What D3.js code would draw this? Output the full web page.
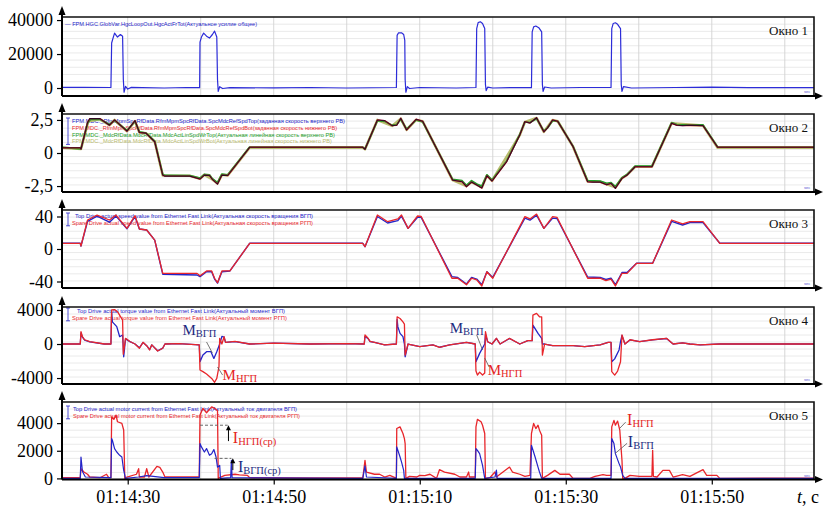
<!DOCTYPE html>
<html>
<head>
<meta charset="utf-8">
<script src="https://cdn.jsdelivr.net/npm/d3@7"></script>
<style>
  body { margin: 0; background: #fff; }
  svg { display: block; }
</style>
</head>
<body>
<svg id="chart"></svg>
<script>
// time in seconds after 01:14:00
const timeDomain = [21, 124];
const timeTicks = [30, 50, 70, 90, 110];
const gridTimes = [30, 40, 50, 60, 70, 80, 90, 100, 110, 120];

// Окно 1: total force
const forceTot = [[21,400],[24,350],[27.7,300],[27.8,26500],[28.0,29500],[28.2,32300],[28.6,30000],[29.0,31500],[29.3,30500],[29.4,5000],[29.5,-2500],[29.7,1000],[30.0,-600],[30.5,400],[32,200],[35,0],[38,300],[39.85,200],[39.9,27000],[40.1,30000],[40.4,32300],[40.8,30500],[41.2,29400],[41.6,31500],[41.9,33500],[42.2,30000],[42.3,5000],[42.4,-2000],[42.6,800],[43.0,-300],[44,200],[50,100],[55,300],[60,0],[66.8,300],[66.9,31000],[67.1,32500],[67.5,32500],[67.8,31500],[67.95,28000],[68.0,5000],[68.1,-2500],[68.3,800],[68.6,-300],[70,300],[75,0],[77.7,300],[77.8,35000],[78.0,38500],[78.3,39000],[78.6,38000],[78.9,35000],[79.0,2000],[79.1,-1500],[79.3,500],[80,0],[83,300],[85.3,200],[85.4,33000],[85.6,36000],[85.9,36500],[86.3,35500],[86.7,33000],[86.8,2000],[86.9,-2000],[87.1,600],[88,0],[92,300],[96.2,300],[96.3,35000],[96.5,38000],[96.8,38400],[97.1,37500],[97.5,35000],[97.6,2000],[97.7,-2000],[97.9,800],[99,0],[105,300],[110,500],[115,200],[124,200]];

// Окно 2: roll linear speeds
const spdRefTop = [[21,0.4],[23.5,0.4],[23.6,0.3],[24.5,2.3],[24.8,2.6],[26.2,2.6],[27.5,2.1],[28.2,2.5],[29.9,1.65],[31.0,2.45],[31.6,1.55],[32.5,1.5],[33.7,0.85],[34.8,-1.67],[35.1,-1.75],[38.5,-1.75],[39.9,-1.97],[40.5,-1.67],[41.2,-1.7],[41.6,-2.0],[42.3,-2.35],[42.9,-1.67],[43.7,-1.7],[46.7,0.43],[62.2,0.43],[62.5,0.28],[64.2,2.5],[65.2,2.45],[66.2,2.07],[66.85,2.1],[67.4,2.63],[68.2,1.74],[69.5,2.55],[70.4,2.4],[74.5,-2.05],[75.8,-2.17],[76.4,-2.55],[77.1,-2.2],[77.8,-2.42],[78.5,-2.65],[79.2,-1.72],[79.9,-2.12],[81.9,-0.66],[83.7,1.36],[84.4,2.37],[85.1,2.27],[86.0,2.67],[87.0,1.6],[87.5,1.9],[88.2,2.5],[88.9,2.4],[91.0,0.48],[93.0,-2.17],[93.7,-2.2],[94.7,-2.2],[95.6,-2.4],[96.2,-2.3],[96.8,-2.67],[97.7,-1.92],[98.4,-1.67],[99.5,-1.04],[101.8,-1.04],[104.5,2.25],[105.2,2.1],[106.0,2.07],[107.0,2.1],[108.8,2.07],[110.8,0.43],[124,0.43]];
const spdRefBot = spdRefTop; // both set-points lie on top of each other
const spdActTop = [[21,0.42],[23.6,0.32],[24.5,2.25],[24.9,2.55],[26.2,2.55],[27.5,2.15],[28.2,2.45],[29.9,1.7],[31.0,2.4],[31.6,1.6],[32.5,1.5],[33.7,0.9],[34.8,-1.62],[35.1,-1.7],[38.5,-1.72],[39.9,-1.9],[40.5,-1.62],[41.2,-1.65],[41.6,-1.95],[42.3,-2.25],[42.9,-1.6],[43.7,-1.65],[46.7,0.45],[62.2,0.45],[62.5,0.3],[64.2,2.45],[65.2,2.4],[66.2,2.1],[66.85,2.15],[67.4,2.55],[68.2,1.8],[69.5,2.5],[70.4,2.35],[74.5,-2.0],[75.8,-2.1],[76.4,-2.45],[77.1,-2.1],[77.8,-2.35],[78.5,-2.5],[79.2,-1.65],[79.9,-2.05],[81.9,-0.6],[83.7,1.4],[84.4,2.35],[85.1,2.3],[86.0,2.6],[87.0,1.65],[87.5,1.9],[88.2,2.45],[88.9,2.4],[91.0,0.5],[93.0,-2.1],[94.7,-2.12],[95.6,-2.3],[96.2,-2.25],[96.8,-2.55],[97.7,-1.88],[98.4,-1.62],[99.5,-1.0],[101.8,-1.0],[104.5,2.3],[105.2,2.15],[106.0,2.12],[108.8,2.12],[110.8,0.45],[124,0.45]];
const spdActBot = [[21,0.4],[23.6,0.3],[24.6,2.4],[26.2,2.55],[27.5,2.1],[28.2,2.5],[29.9,1.65],[31.0,2.4],[31.6,1.55],[32.5,1.5],[33.7,0.85],[34.8,-1.7],[38.5,-1.72],[39.9,-1.95],[40.5,-1.65],[41.6,-2.0],[42.3,-2.3],[42.9,-1.65],[43.7,-1.7],[46.7,0.4],[62.2,0.4],[62.5,0.28],[64.2,2.5],[66.2,2.05],[67.4,2.6],[68.2,1.75],[69.5,2.5],[70.4,2.4],[74.5,-2.05],[76.4,-2.5],[77.1,-2.2],[78.5,-2.6],[79.2,-1.7],[79.9,-2.1],[83.7,1.35],[84.4,2.35],[86.0,2.65],[87.0,1.6],[88.2,2.5],[88.9,2.4],[91.0,0.48],[93.0,-2.15],[94.7,-2.18],[96.8,-2.6],[97.7,-1.9],[98.4,-1.65],[99.5,-1.04],[101.8,-1.04],[104.5,2.25],[108.8,2.07],[110.8,0.4],[124,0.4]];

// Окно 3: roll rotation speeds
const rotSpare = [[21,7],[23.5,7],[23.6,3.7],[24.5,35.7],[25.8,41.8],[27.5,35.7],[28.4,41.8],[29.9,25.4],[31.0,41],[31.6,24.6],[32.6,23.4],[33.7,11],[34.8,-30],[39.5,-30],[39.9,-33],[40.8,-27],[41.5,-27],[41.9,-36],[42.3,-41.5],[42.9,-27],[44.0,-27],[46.7,7],[62.2,7],[62.5,2.9],[64.2,41.8],[65.6,33.6],[67.0,37],[67.5,41.8],[68.4,25.4],[69.7,40.6],[70.2,40],[74.4,-36],[75.2,-36],[76.4,-44],[77.1,-36],[77.8,-38],[78.5,-45.5],[79.2,-28],[80.0,-36],[84.4,39.8],[85.1,37],[86.0,43],[87.0,25.4],[88.2,39.8],[88.8,39],[93.0,-36],[94.7,-36],[95.5,-39],[96.2,-37],[96.8,-45.5],[97.7,-30],[98.4,-30],[99.7,-17.6],[101.9,-17.6],[104.5,35.7],[106.0,30.8],[107.0,33.6],[108.8,33.6],[111.1,7],[124,7]];
const rotTop = [[21,7],[23.5,7],[23.6,3.7],[24.5,34],[25.8,40.5],[27.5,33],[28.4,40.5],[29.9,25],[31.0,40],[31.6,24.6],[32.6,23.4],[33.7,11],[34.8,-31],[39.5,-32],[39.9,-34],[40.8,-28],[41.5,-28],[41.9,-37],[42.3,-42],[42.9,-28],[44.0,-27],[46.7,7],[62.2,7],[62.5,2.9],[64.2,40],[65.6,32],[67.0,35],[67.5,40.5],[68.4,25.4],[69.7,39],[70.2,39],[74.4,-34],[75.2,-35],[76.4,-43],[77.1,-35],[77.8,-37],[78.5,-44],[79.2,-28],[80.0,-35],[84.4,38],[85.1,35.5],[86.0,41.5],[87.0,25.4],[88.2,38],[88.8,37.5],[93.0,-34.5],[94.7,-35],[95.5,-37.5],[96.2,-36],[96.8,-44],[97.7,-29],[98.4,-29],[99.7,-17.6],[101.9,-17.6],[104.5,34],[106.0,29.5],[107.0,32.5],[108.8,32.5],[111.1,7],[124,7]];

// Окно 4: torques
const torqueSpare = [[21,0],[23.5,0],[23.6,1450],[23.8,860],[24.1,500],[24.8,270],[26.8,0],[27.7,0],[27.8,4000],[28.2,4050],[28.6,3800],[29.3,2800],[29.4,-1200],[29.7,670],[30.3,300],[31.0,0],[31.6,-500],[32.1,200],[32.6,-200],[33.0,-700],[33.3,-100],[34.1,-820],[34.8,-500],[35.1,0],[37,50],[39.8,-100],[39.9,-3060],[40.3,-3250],[40.8,-3530],[41.5,-4040],[41.9,-4500],[42.2,-4040],[42.5,-2670],[42.6,670],[42.9,0],[43.2,860],[43.4,200],[44.7,300],[46.7,0],[50,100],[55,0],[60,50],[62.4,0],[62.5,1060],[62.9,700],[63.2,300],[63.8,200],[65.2,-100],[66.8,0],[66.9,3200],[67.3,3000],[67.7,2600],[67.9,2350],[68.0,-1300],[68.4,0],[70.0,-300],[71.8,-100],[72.7,-400],[74.1,-100],[76.4,200],[77.6,0],[77.7,-3180],[77.9,-3650],[78.2,-3300],[78.6,-3650],[78.9,-3400],[79.0,1450],[79.3,270],[79.9,0],[80.5,670],[81.0,0],[82.3,670],[83.7,0],[84.8,400],[85.4,400],[85.5,3400],[86.0,3600],[86.4,3200],[86.7,3200],[86.8,-1300],[87.1,0],[88.2,-200],[91.0,-200],[92.6,-300],[94.7,-100],[95.8,200],[96.2,200],[96.3,-3250],[96.7,-3650],[97.1,-3180],[97.5,-2080],[97.7,1060],[98.1,0],[98.8,500],[100.1,270],[101.9,500],[103.8,670],[104.7,0],[106.0,130],[107.0,0],[108.4,-100],[111.1,0],[124,0]];
const torqueTop = [[21,0],[23.5,0],[23.6,1300],[23.8,800],[24.1,450],[24.8,250],[26.8,0],[27.7,0],[27.8,3800],[27.9,2600],[28.5,2040],[28.9,860],[29.3,1060],[29.45,-1500],[29.7,600],[30.3,280],[31.0,0],[31.6,-450],[32.1,180],[32.6,-200],[33.0,-650],[33.3,-100],[34.1,-800],[34.8,-480],[35.1,0],[37,50],[39.8,-100],[39.9,-2080],[40.3,-1300],[40.8,-900],[41.4,-900],[41.8,-1690],[42.2,-900],[42.6,0],[42.9,900],[43.2,800],[43.4,200],[44.7,280],[46.7,0],[50,100],[55,0],[60,50],[62.4,0],[62.5,900],[62.9,650],[63.2,280],[63.8,200],[65.2,-100],[66.8,0],[66.9,2900],[67.0,2040],[67.3,1250],[67.7,860],[67.9,0],[68.0,-1500],[68.4,0],[70.0,-300],[71.8,-100],[72.7,-380],[74.1,-100],[76.4,200],[77.6,0],[77.7,-2080],[78.2,-1100],[78.9,0],[79.0,1130],[79.3,270],[79.9,0],[80.5,650],[81.0,0],[82.3,650],[83.7,0],[84.8,400],[85.4,400],[85.5,2230],[86.2,1250],[86.7,670],[86.8,0],[87.1,0],[88.2,-200],[91.0,-200],[92.6,-300],[94.7,-100],[95.8,200],[96.2,200],[96.3,-2080],[96.7,-1750],[97.3,-700],[97.5,270],[97.7,1000],[98.1,0],[98.8,480],[100.1,270],[101.9,480],[103.8,650],[104.7,0],[106.0,130],[107.0,0],[108.4,-100],[111.1,0],[124,0]];

// Окно 5: motor currents
const currentSpare = [[21,50],[23.5,50],[23.6,700],[24.0,460],[24.5,300],[24.8,100],[26.2,50],[27.1,300],[27.4,50],[27.7,50],[27.8,4460],[28.1,4270],[28.4,4580],[28.6,4100],[29.2,3980],[29.45,3500],[29.6,0],[29.9,100],[31.2,300],[31.5,700],[31.6,100],[32.3,100],[32.6,700],[32.9,100],[34.0,870],[34.4,800],[34.8,460],[35.1,100],[39.8,100],[39.9,4580],[40.3,5070],[40.8,4750],[41.5,5180],[41.9,5070],[42.3,4900],[42.4,0],[42.6,50],[43.3,220],[44.7,300],[45.3,250],[46.4,220],[46.7,50],[55,30],[62.2,30],[62.5,1300],[62.7,460],[63.8,300],[64.5,300],[65.2,100],[65.9,220],[66.6,50],[66.8,50],[66.85,3610],[67.3,3730],[67.7,3250],[67.9,2880],[68.0,2520],[68.1,0],[68.6,145],[69.6,100],[70.0,220],[70.7,200],[71.4,300],[72.3,0],[72.7,630],[73.4,460],[74.8,300],[75.5,100],[76.4,100],[76.7,460],[76.8,100],[77.6,100],[77.7,3730],[77.9,4270],[78.4,4100],[78.6,3850],[78.9,3250],[79.0,0],[79.6,50],[80.3,460],[80.5,100],[82.3,820],[82.7,460],[83.7,300],[84.4,150],[85.1,220],[85.3,3250],[85.6,3980],[85.9,3610],[86.2,3850],[86.4,3490],[86.7,3130],[86.8,0],[87.5,220],[88.5,580],[89.2,300],[90.5,300],[91.0,0],[93.3,0],[94.0,150],[95.1,270],[95.6,220],[96.2,220],[96.3,3730],[96.6,4200],[96.8,3850],[97.1,4150],[97.4,3490],[97.7,1300],[97.8,0],[98.1,0],[98.8,220],[100.1,150],[101.8,150],[101.9,2030],[102.0,150],[102.5,100],[103.3,580],[104.2,580],[104.7,100],[106.0,270],[107.0,150],[108.8,630],[109.3,220],[110.7,220],[111.1,0],[124,20]];
const currentTop = [[21,0],[23.5,0],[23.6,1550],[23.8,500],[24.2,100],[27.7,50],[27.8,2880],[27.9,2760],[28.2,2160],[28.5,1910],[28.9,1670],[29.2,1550],[29.45,580],[29.7,0],[31.5,100],[32.6,200],[35,50],[39.8,50],[39.9,2520],[40.1,2280],[40.5,1910],[40.8,2160],[41.2,1670],[41.5,1790],[41.8,2090],[42.1,1550],[42.3,820],[42.6,940],[42.7,0],[44.1,50],[44.2,1300],[44.3,50],[62.2,0],[62.5,900],[62.7,100],[66.8,0],[66.85,2280],[67.3,1550],[67.5,1190],[67.8,580],[67.9,0],[77.6,0],[77.7,2160],[77.9,2030],[78.2,1790],[78.6,940],[78.9,0],[80.3,100],[80.5,600],[80.6,0],[85.2,0],[85.3,2400],[85.8,1550],[86.2,820],[86.4,460],[86.7,0],[96.2,0],[96.3,2880],[96.6,2520],[96.8,1790],[97.3,1070],[97.5,820],[97.8,220],[98.1,0],[124,0]];

// annotation anchors: [time, value]
const torqueNotes = [
  {at:[37.5,1060], main:"M", sub:"ВГП", kind:"top", lead:[[40.8,235],[41.6,-1060]]},
  {at:[43.0,-4230], main:"M", sub:"НГП", kind:"spare", lead:[[42.3,-2700],[43.0,-3650]]},
  {at:[74.1,1290], main:"M", sub:"ВГП", kind:"top", lead:[[77.8,1060],[78.6,-700]]},
  {at:[79.3,-3650], main:"M", sub:"НГП", kind:"spare", lead:[[78.9,-1650],[79.5,-2700]]}
];
const currentNotes = [
  {at:[44.4,2570], main:"I", sub:"НГП(ср)", kind:"spare", level:[39.9,43.7,3850], arrow:[43.8,2700]},
  {at:[45.1,460], main:"I", sub:"ВГП(ср)", kind:"top", level:[41.9,44.2,1450], arrow:[44.4,600]},
  {at:[98.4,3850], main:"I", sub:"НГП", kind:"spare", lead:[[97.4,3630],[98.2,4070]]},
  {at:[98.5,2250], main:"I", sub:"ВГП", kind:"top", lead:[[96.8,1820],[98.4,2540]]}
];

const width = 823, height = 509;
const left = 62, right = 814;
const serif = "'Liberation Serif', 'Times New Roman', serif";
const sans = "'Liberation Sans', Arial, sans-serif";
const BLUE = "#2424c8", RED = "#e8262b", GREEN = "#1e9e2a", OLIVE = "#b9bb6e";
const noteColor = {top: "#1c2a80", spare: "#e52222"};

const svg = d3.select("#chart").attr("width", width).attr("height", height);
const x = d3.scaleLinear().domain(timeDomain).range([left, right]);

const panels = [
  {top:17, bottom:96, domain:[-4700,41800], ticks:[0,20000,40000], fmt:d => d, title:"Окно 1",
   series:[{data:forceTot, color:"#2c2cd8", w:1.2}],
   legend:[{text:"— FPM.HGC.GlobVar.HgcLoopOut.HgcActFrTot(Актуальное усилие общее)", color:BLUE, x:65, len:192}],
   legendY:26, bracket:false},
  {top:114, bottom:192, domain:[-2.95,2.95], ticks:[-2.5,0,2.5], fmt:d => d === 0 ? "0" : String(d).replace(".", ","), title:"Окно 2",
   series:[{data:spdActBot, color:OLIVE, w:2.6},{data:spdActTop, color:GREEN, w:1.8},
           {data:spdRefBot, color:RED, w:1.4},{data:spdRefTop, color:"#3535c8", w:1.1, blend:true}],
   legend:[{text:"FPM.MDC._RfmMpmSpcRfData.RfmMpmSpcRfData.SpcMdcRefSpdTop(заданная скорость верхнего РВ)", color:BLUE, x:72, len:273},
           {text:"FPM.MDC._RfmMpmSpcRfData.RfmMpmSpcRfData.SpcMdcRefSpdBot(заданная скорость нижнего РВ)", color:RED, x:72, len:265},
           {text:"FPM.MDC._MdcRfData.MdcRfData.MdcActLinSpdWrTop(Актуальная линейная скорость верхнего РВ)", color:GREEN, x:72, len:263},
           {text:"FPM.MDC._MdcRfData.MdcRfData.MdcActLinSpdWrBot(Актуальная линейная скорость нижнего РВ)", color:OLIVE, x:72, len:260}],
   legendY:123, bracket:true},
  {top:210, bottom:288, domain:[-48,48], ticks:[-40,0,40], fmt:d => d, title:"Окно 3",
   series:[{data:rotTop, color:BLUE, w:1.4},{data:rotSpare, color:RED, w:1.3}],
   legend:[{text:"Top Drive  actual speed value from Ethernet Fast Link(Актуальная скорость вращения ВГП)", color:BLUE, x:75, len:238},
           {text:"Spare Drive  actual speed value from Ethernet Fast Link(Актуальная скорость вращения РГП)", color:RED, x:72, len:241}],
   legendY:218, bracket:true},
  {top:307, bottom:384, domain:[-4700,4350], ticks:[-4000,0,4000], fmt:d => d, title:"Окно 4",
   series:[{data:torqueTop, color:BLUE, w:1.3},{data:torqueSpare, color:RED, w:1.3}],
   legend:[{text:"Top Drive  actual torque value from Ethernet Fast Link(Актуальный момент ВГП)", color:BLUE, x:77, len:208},
           {text:"Spare Drive  actual torque value from Ethernet Fast Link(Актуальный момент РГП)", color:RED, x:72, len:215}],
   legendY:313, bracket:true, notes:torqueNotes},
  {top:402, bottom:479.5, domain:[-80,5530], ticks:[0,2000,4000], fmt:d => d, title:"Окно 5",
   series:[{data:currentSpare, color:RED, w:1.3},{data:currentTop, color:BLUE, w:1.2}],
   legend:[{text:"Top Drive actual motor current from Ethernet Fast Link(Актуальный ток двигателя ВГП)", color:BLUE, x:73, len:224},
           {text:"Spare Drive actual motor current from Ethernet Fast Link(Актуальный ток двигателя РГП)", color:RED, x:73, len:227}],
   legendY:411, bracket:true, notes:currentNotes, xAxis:true}
];

function subLabel(g, px, py, main, sub, color, big) {
  const t = g.append("text").attr("x", px).attr("y", py)
    .attr("fill", color).style("font-family", serif);
  t.append("tspan").attr("font-size", big ? 16 : 15).text(main);
  t.append("tspan").attr("font-size", 10.5).attr("dy", 2).text(sub);
}

panels.forEach((p, i) => {
  const y = d3.scaleLinear().domain(p.domain).range([p.bottom, p.top]);
  const g = svg.append("g");

  g.append("clipPath").attr("id", "clip" + i)
    .append("rect").attr("x", left).attr("y", p.top).attr("width", right - left).attr("height", p.bottom - p.top);

  // grid
  const h = p.bottom - p.top;
  g.append("g").selectAll("line").data(d3.range(1, 11)).join("line")
    .attr("x1", left).attr("x2", right)
    .attr("y1", k => p.top + k * h / 11).attr("y2", k => p.top + k * h / 11)
    .attr("stroke", "#e4e4e4").attr("stroke-width", 0.8);
  g.append("g").selectAll("line").data(gridTimes).join("line")
    .attr("x1", d => x(d)).attr("x2", d => x(d))
    .attr("y1", p.top).attr("y2", p.bottom)
    .attr("stroke", "#d2d2d2").attr("stroke-width", 0.9);

  // legend (under the curves)
  const leg = g.append("g").style("font-family", sans).attr("font-size", 5.6);
  p.legend.forEach((l, k) => {
    leg.append("text").attr("x", l.x).attr("y", p.legendY + k * 6.8)
      .attr("fill", l.color).attr("textLength", l.len).attr("lengthAdjust", "spacingAndGlyphs")
      .text(l.text);
  });
  if (p.bracket) {
    const y0 = p.legendY - 5, y1 = p.legendY + (p.legend.length - 1) * 6.8 + 1;
    leg.append("path").attr("d", `M66,${y0}H70M68,${y0}V${y1}M66,${y1}H70`)
      .attr("stroke", BLUE).attr("stroke-width", 0.8).attr("fill", "none");
  }

  // curves
  const line = d3.line().x(d => x(d[0])).y(d => y(d[1]));
  const curves = g.append("g").attr("clip-path", `url(#clip${i})`);
  p.series.forEach(s => {
    curves.append("path").datum(s.data).attr("d", line)
      .attr("fill", "none").attr("stroke", s.color).attr("stroke-width", s.w)
      .attr("stroke-linejoin", "round")
      .style("mix-blend-mode", s.blend ? "multiply" : null);
  });

  // frame
  g.append("path").attr("d", `M${left},${p.top}H${right}V${p.bottom}`)
    .attr("fill", "none").attr("stroke", "#111").attr("stroke-width", 1.6);
  g.append("line").attr("x1", left).attr("x2", right + 2).attr("y1", p.bottom).attr("y2", p.bottom)
    .attr("stroke", "#000").attr("stroke-width", 2);
  g.append("line").attr("x1", left).attr("x2", left).attr("y1", p.top - 4).attr("y2", p.bottom)
    .attr("stroke", "#000").attr("stroke-width", 2);
  g.append("path").attr("d", `M${left},${p.top - 11}L${left - 3.5},${p.top - 2}H${left + 3.5}Z`).attr("fill", "#000");
  g.append("path").attr("d", `M${right + 9},${p.bottom}L${right + 1},${p.bottom - 3.5}V${p.bottom + 3.5}Z`).attr("fill", "#000");

  // y axis
  const ya = g.append("g").attr("transform", `translate(${left},0)`)
    .call(d3.axisLeft(y).tickValues(p.ticks).tickFormat(p.fmt).tickSize(5).tickPadding(4));
  ya.select(".domain").remove();
  ya.selectAll("line").attr("stroke", "#000").attr("stroke-width", 1.2);
  ya.selectAll("text").style("font-family", serif).style("font-size", "18px").attr("fill", "#000");

  // window title and tiny unit mark
  g.append("text").attr("x", 808).attr("y", p.top + 18).attr("text-anchor", "end")
    .style("font-family", serif).attr("font-size", 13).attr("fill", "#111").text(p.title);
  g.append("text").attr("x", 804).attr("y", p.bottom - 3).style("font-family", sans)
    .attr("font-size", 4).attr("fill", "#5050d0").text("sec");

  // annotations
  (p.notes || []).forEach(n => {
    const c = noteColor[n.kind];
    if (n.lead) {
      g.append("line").attr("x1", x(n.lead[0][0])).attr("y1", y(n.lead[0][1]))
        .attr("x2", x(n.lead[1][0])).attr("y2", y(n.lead[1][1]))
        .attr("stroke", "#555").attr("stroke-width", 0.8);
    }
    if (n.level) {
      g.append("line").attr("x1", x(n.level[0])).attr("x2", x(n.level[1]))
        .attr("y1", y(n.level[2])).attr("y2", y(n.level[2]))
        .attr("stroke", "#666").attr("stroke-width", 1).attr("stroke-dasharray", "3,2");
      const ax = x(n.arrow[0]), ay0 = y(n.arrow[1]), ay1 = y(n.level[2]);
      g.append("line").attr("x1", ax).attr("x2", ax).attr("y1", ay0).attr("y2", ay1 + 4)
        .attr("stroke", "#000").attr("stroke-width", 1);
      g.append("path").attr("d", `M${ax},${ay1}L${ax - 2.5},${ay1 + 5}H${ax + 2.5}Z`).attr("fill", "#000");
    }
    subLabel(g, x(n.at[0]), y(n.at[1]), n.main, n.sub, c, n.main === "I");
  });

  if (p.xAxis) {
    const xa = g.append("g").attr("transform", `translate(0,${p.bottom})`)
      .call(d3.axisBottom(x).tickValues(timeTicks).tickSize(5).tickPadding(6)
        .tickFormat(t => {
          const m = 14 + Math.floor(t / 60), s = t % 60;
          return "01:" + m + ":" + String(s).padStart(2, "0");
        }));
    xa.select(".domain").remove();
    xa.selectAll("line").attr("stroke", "#000").attr("stroke-width", 1.2);
    xa.selectAll("text").style("font-family", serif).style("font-size", "18px").attr("fill", "#000");
    const tl = g.append("text").attr("x", 797).attr("y", 503)
      .style("font-family", serif).attr("font-size", 18).attr("fill", "#000");
    tl.append("tspan").attr("font-style", "italic").text("t");
    tl.append("tspan").text(", с");
  }
});
</script>
</body>
</html>
